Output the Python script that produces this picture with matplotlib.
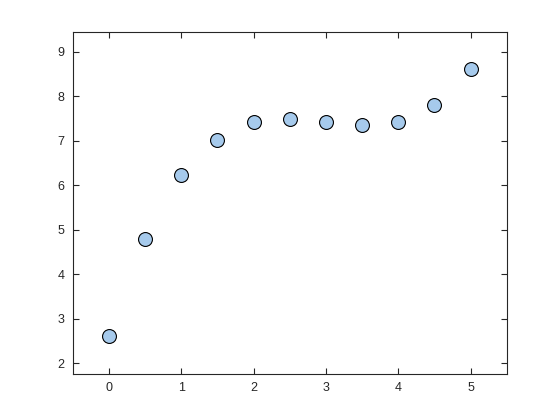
import numpy as np
import matplotlib.pyplot as plt

plt.rcParams['font.family'] = ['Liberation Sans', 'DejaVu Sans']

x = [0, 0.5, 1, 1.5, 2, 2.5, 3, 3.5, 4, 4.5, 5]
y = [2.61, 4.78, 6.22, 7.02, 7.41, 7.48, 7.41, 7.34, 7.41, 7.79, 8.60]

fig = plt.figure(figsize=(5.6, 4.2), dpi=100)
ax = fig.add_axes([0.13, 0.11, 0.775, 0.815])
ax.scatter(x, y, s=100, facecolor='#A6CAEC', edgecolor='black', linewidth=0.8, zorder=3)

ax.set_xlim(-0.5, 5.5)
ax.set_ylim(1.76, 9.45)
ax.set_xticks(range(0, 6))
ax.set_yticks(range(2, 10))
ax.tick_params(direction='in', top=True, right=True, length=4, width=0.8,
               labelsize=9, colors='#262626', pad=6)
for sp in ax.spines.values():
    sp.set_linewidth(0.8)
    sp.set_color('#262626')

fig.savefig('out.png', dpi=100)
